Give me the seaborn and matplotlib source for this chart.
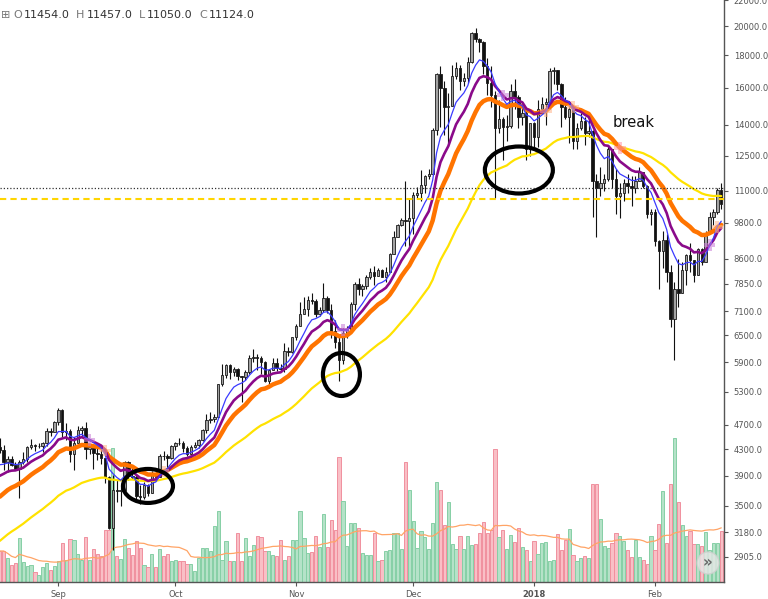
import numpy as np
import pandas as pd
import seaborn as sns
import matplotlib.pyplot as plt
from matplotlib.patches import Ellipse
from matplotlib.ticker import NullLocator

# daily candles, 17 Aug 2017 .. 18 Feb 2018
dates = pd.date_range('2017-08-17', '2018-02-18', freq='D')

opens = [
    4330, 4280, 4100, 4150, 4060, 4000, 4100, 4150, 4330, 4370, 4350, 4350, 4390, 4600, 4580,
    4740, 4950, 4580, 4600, 4230, 4400, 4610, 4640, 4300, 4330, 4240, 4220, 4160, 3880, 3230,
    3700, 3690, 3700, 4100, 3900, 3880, 3620, 3610, 3780, 3660, 3930, 3890, 4200, 4190, 4160,
    4350, 4400, 4390, 4310, 4220, 4330, 4370, 4440, 4610, 4780, 4790, 4830, 5440, 5640, 5830, 5690,
    5750, 5600, 5580, 5700, 6000, 6010, 5980, 5900, 5510, 5740, 5890, 5770, 5750, 6150, 6130,
    6460, 6740, 7030, 7150, 7400, 7380, 7020, 7140, 7460, 7140, 6600, 6350, 5950, 6560, 6630,
    7280, 7850, 7700, 7790, 8040, 8200, 8070, 8250, 8030, 8200, 8750, 9300, 9700, 9900, 9850,
    9950, 10850, 10900, 11250, 11600, 11700, 13700, 16800, 16000, 14900, 15000, 16700, 17200, 16400, 16600, 17600,
    19500, 19100, 18900, 17300, 16300, 15600, 13800, 14300, 13900, 13950, 15800, 15500, 14400, 14600, 12800,
    14100, 13400, 14800, 15100, 15200, 17000, 17100, 16200, 14900, 14400, 14800, 13200, 13800, 14200, 13600, 13650,
    11400, 11100, 11300, 11500, 12800, 11500, 10800, 10900, 11300, 11200, 11100, 11400, 11800, 11200, 10100,
    10200, 9150, 8850, 9200, 8200, 6900, 7700, 7600, 8250, 8700, 8550, 8100, 8900, 8500, 9450, 10000, 10200, 11050,
]
highs = [
    4480, 4370, 4190, 4190, 4100, 4130, 4250, 4350, 4460, 4380, 4390, 4410, 4640, 4640, 4770,
    4990, 4980, 4720, 4620, 4500, 4680, 4680, 4740, 4380, 4340, 4330, 4370, 4160, 3900, 3910,
    3860, 3780, 4120, 4120, 4050, 3910, 3770, 3820, 3790, 3970, 3990, 4220, 4270, 4220, 4370,
    4410, 4470, 4430, 4350, 4360, 4410, 4460, 4620, 4880, 4920, 4880, 5450, 5860, 5850, 5850, 5790,
    5780, 5600, 5730, 6050, 6190, 6070, 6040, 5930, 5760, 5990, 6000, 5870, 6320, 6240, 6470,
    6780, 7350, 7470, 7500, 7600, 7410, 7200, 7870, 7500, 7300, 6880, 6500, 6680, 6720, 7330,
    7900, 8000, 7850, 8100, 8300, 8370, 8300, 8280, 8350, 8780, 9500, 9750, 9980, 11400, 10700,
    10950, 11150, 11850, 11650, 11900, 13800, 16900, 17300, 16400, 15700, 17400, 17600, 17400, 16900, 17900, 19600,
    19900, 19200, 18950, 17800, 17300, 15800, 15300, 14400, 14500, 16200, 16500, 15600, 15100, 14700, 14100,
    14150, 15300, 15500, 15400, 17200, 17250, 17100, 16300, 15500, 14900, 14900, 14100, 14600, 14400, 14300, 13700,
    11700, 12000, 11700, 13000, 12800, 11900, 11300, 11500, 11700, 11600, 11600, 12000, 11800, 11250, 10300,
    10300, 9200, 9500, 9400, 8400, 7900, 8600, 8500, 8750, 9100, 8550, 8950, 8950, 9500, 10200, 10300, 11100, 11300,
]
lows = [
    4240, 3980, 3960, 4040, 3980, 3600, 4080, 4110, 4300, 4270, 4310, 4260, 4350, 4510, 4570,
    4690, 4500, 4450, 4110, 3980, 4390, 4510, 4150, 4220, 4000, 4140, 4070, 3800, 3220, 2980,
    3550, 3490, 3700, 3850, 3860, 3560, 3520, 3590, 3630, 3660, 3860, 3880, 4140, 4000, 4150,
    4280, 4360, 4250, 4190, 4160, 4310, 4320, 4430, 4560, 4730, 4740, 4820, 5400, 5570, 5550, 5600,
    5530, 5100, 5520, 5650, 5900, 5730, 5650, 5480, 5430, 5730, 5710, 5690, 5690, 6030, 6100,
    6400, 6720, 7020, 6990, 7300, 6950, 6980, 7080, 7050, 6450, 6200, 5500, 5860, 6450, 6630,
    7130, 7530, 7500, 7700, 7980, 7800, 8060, 8030, 7900, 8200, 8730, 9300, 9670, 9000, 9000,
    9400, 10700, 10600, 10900, 11500, 11650, 13500, 13900, 13500, 13100, 15000, 16500, 15900, 16100, 16300, 17500,
    18900, 18200, 16800, 15600, 14900, 10700, 13600, 12300, 13200, 13800, 14800, 13800, 14000, 12300, 12500,
    12900, 12900, 14700, 14000, 14800, 16200, 15900, 13900, 14300, 13100, 12800, 12800, 13700, 13000, 13400, 10000,
    9300, 10800, 11000, 11400, 11100, 10100, 9950, 10600, 10900, 10400, 10900, 11400, 11100, 9950, 9700,
    9000, 7700, 8300, 7900, 6700, 5950, 7200, 7600, 7800, 8200, 7900, 8100, 8400, 8500, 9400, 9700, 10100, 10300,
]
closes = [
    4280, 4100, 4150, 4060, 4000, 4100, 4150, 4330, 4370, 4350, 4350, 4390, 4600, 4580, 4740,
    4950, 4580, 4600, 4230, 4400, 4610, 4640, 4300, 4330, 4240, 4220, 4160, 3880, 3230, 3700,
    3690, 3700, 4100, 3900, 3880, 3620, 3610, 3780, 3660, 3930, 3890, 4200, 4190, 4160, 4350,
    4400, 4390, 4310, 4220, 4330, 4370, 4440, 4610, 4780, 4790, 4830, 5440, 5640, 5830, 5690, 5750,
    5600, 5580, 5700, 6000, 6010, 5980, 5900, 5510, 5740, 5890, 5770, 5750, 6150, 6130, 6460,
    6740, 7030, 7150, 7400, 7380, 7020, 7140, 7460, 7140, 6600, 6350, 5950, 6560, 6630, 7280,
    7850, 7700, 7790, 8040, 8200, 8070, 8250, 8030, 8200, 8750, 9300, 9700, 9900, 9850, 9950,
    10850, 10900, 11250, 11600, 11700, 13700, 16800, 16000, 14900, 15000, 16700, 17200, 16400, 16600, 17600, 19500,
    19100, 18900, 17300, 16300, 15600, 13800, 14300, 13900, 13950, 15800, 15500, 14400, 14600, 12800, 14100,
    13400, 14800, 15100, 15200, 17000, 17100, 16200, 14900, 14400, 14800, 13200, 13800, 14200, 13600, 13650, 11400,
    11100, 11300, 11500, 12800, 11500, 10800, 10900, 11300, 11200, 11100, 11400, 11800, 11200, 10100, 10200,
    9150, 8850, 9200, 8200, 6900, 7700, 7600, 8250, 8700, 8550, 8100, 8900, 8500, 9450, 10000, 10200, 11050, 10500,
]
volumes = [
    31, 31, 24, 17, 19, 44, 20, 16, 17, 10, 7, 15, 19, 12, 16,
    21, 39, 22, 43, 42, 28, 22, 45, 22, 33, 28, 26, 52, 52, 134,
    26, 23, 43, 34, 27, 41, 34, 17, 15, 28, 15, 33, 26, 28, 21,
    22, 21, 21, 18, 18, 11, 24, 34, 34, 31, 56, 71, 22, 41, 21, 21,
    49, 21, 44, 26, 37, 46, 45, 31, 31, 27, 26, 42, 22, 26, 42,
    42, 71, 44, 29, 30, 46, 35, 68, 35, 62, 52, 125, 81, 36, 59,
    59, 54, 29, 27, 27, 49, 21, 22, 31, 32, 49, 49, 33, 120, 92,
    61, 34, 51, 45, 33, 59, 100, 92, 57, 80, 38, 33, 46, 33, 46, 37,
    38, 49, 60, 49, 52, 133, 45, 52, 33, 47, 40, 54, 35, 32, 21,
    41, 28, 39, 40, 21, 22, 48, 32, 42, 53, 27, 21, 24, 26, 24, 98,
    98, 63, 36, 34, 39, 49, 46, 41, 32, 25, 42, 25, 22, 18, 46,
    32, 58, 91, 39, 98, 144, 80, 57, 46, 51, 38, 38, 36, 50, 32, 39, 39, 51,
]

# moving averages: (span, colour, width, value just before the first candle)
ema_specs = [
    (55, '#ffe200', 1.6, 3035),
    (21, '#ff7400', 3.2, 3550),
    (13, '#8a0a8a', 1.9, 3840),
    (8, '#3a3aff', 0.9, 4000),
]
# faint cross-over signal marks: (date, ema span it sits on, colour)
signals = [
    ('2017-09-09', 13, '#c77ad6'), ('2017-09-13', 21, '#ffb48a'),
    ('2017-09-28', 21, '#ffb48a'), ('2017-11-13', 13, '#c77ad6'),
    ('2017-12-24', 13, '#c77ad6'), ('2018-01-04', 21, '#ffb48a'),
    ('2018-01-11', 21, '#ffb48a'), ('2018-01-23', 21, '#ff94a8'),
    ('2018-02-15', 13, '#c77ad6'), ('2018-02-17', 21, '#ffb48a'),
]
last_price = 11124
level_line = 10680
month_labels = ['Sep', 'Oct', 'Nov', 'Dec', '2018', 'Feb']
price_ticks = [2905, 3180, 3500, 3900, 4300, 4700, 5300, 5900, 6500, 7100,
               7850, 8600, 9800, 11000, 12500, 14000, 16000, 18000, 20000, 22000]

df = pd.DataFrame({'date': dates, 'open': opens, 'high': highs,
                   'low': lows, 'close': closes, 'volume': volumes})
df['i'] = np.arange(len(df))
df['up'] = df['close'] >= df['open']


def seeded_ema(values, span, seed):
    a = 2.0 / (span + 1)
    out, prev = [], seed
    for v in values:
        prev = a * v + (1 - a) * prev
        out.append(prev)
    return out


for span, _, _, seed in ema_specs:
    df[f'ema{span}'] = seeded_ema(df['close'], span, seed)
df['vol_ma'] = df['volume'].rolling(20, min_periods=1).mean()

sns.set_theme(style='white')
plt.rcParams['font.family'] = ['DejaVu Sans']

fig = plt.figure(figsize=(7.68, 5.99), dpi=100)
ax = fig.add_axes([0, 17 / 599, 724 / 768, 582 / 599])
axv = ax.twinx()
ax.set_zorder(axv.get_zorder() + 1)
ax.patch.set_visible(False)

# volume
vol_col = np.where(df['up'], '#b5e2c8', '#f9bfc6')
vol_edge = np.where(df['up'], '#86cfa6', '#f0909e')
axv.bar(df['i'], df['volume'], width=0.82, color=vol_col, edgecolor=vol_edge, linewidth=0.7)
sns.lineplot(x=df['i'], y=df['vol_ma'], ax=axv, color='#ffa466', lw=0.9)
axv.set_ylim(0, 582)
axv.set_yticks([])
axv.set_ylabel('')
for s in axv.spines.values():
    s.set_visible(False)

# candles
ax.vlines(df['i'], df['low'], df['high'], color='#111111', lw=0.8, zorder=2)
body_low = np.minimum(df['open'], df['close'])
body_h = np.maximum(np.abs(df['close'] - df['open']), 1.0)
ax.bar(df['i'], body_h, bottom=body_low, width=0.62,
       color=np.where(df['up'], '#a3a3a3', '#111111'),
       edgecolor='#1a1a1a', linewidth=0.6, zorder=3)

for span, col, lw, _ in ema_specs:
    sns.lineplot(x=df['i'], y=df[f'ema{span}'], ax=ax, color=col, lw=lw, zorder=4)

sig = pd.DataFrame(signals, columns=['date', 'span', 'color'])
sig['i'] = [df.index[df['date'] == pd.Timestamp(d)][0] for d in sig['date']]
sig['y'] = [df.loc[i, f'ema{s}'] for i, s in zip(sig['i'], sig['span'])]
sns.scatterplot(data=sig, x='i', y='y', hue='color', palette={c: c for c in sig['color']},
                marker='P', s=70, alpha=0.55, linewidth=0, legend=False, ax=ax, zorder=4.5)

ax.axhline(last_price, color='#333333', lw=0.9, ls=(0, (1, 1.6)), zorder=5)
ax.axhline(level_line, color='#ffd500', lw=1.5, ls=(0, (3, 2)), zorder=5)

ax.set_yscale('log')
ax.set_ylim(2652, 22020)
ax.set_xlim(0.05, 185.7)
ax.yaxis.tick_right()
ax.yaxis.set_label_position('right')
ax.set_yticks(price_ticks)
ax.set_yticklabels([f'{v:.1f}' for v in price_ticks])
ax.yaxis.set_minor_locator(NullLocator())
ax.set_ylabel('')
ax.set_xlabel('')

month_pos = df.index[(df['date'].dt.day == 1)].tolist()
ax.set_xticks(month_pos)
ax.set_xticklabels(month_labels)
for lab in ax.get_xticklabels():
    if lab.get_text() == '2018':
        lab.set_fontweight('bold')
        lab.set_color('#333333')

ax.tick_params(axis='y', which='major', right=True, left=False, length=3, width=0.8,
               color='#555555', labelsize=6, labelcolor='#555555', pad=4)
ax.tick_params(axis='x', which='major', bottom=True, length=3, width=0.8,
               color='#555555', labelsize=6, labelcolor='#555555', pad=3)
for side in ['left', 'top']:
    ax.spines[side].set_visible(False)
for side in ['right', 'bottom']:
    ax.spines[side].set_color('#555555')
    ax.spines[side].set_linewidth(1.0)

# hand-drawn circles around the retests
to_axes = ax.transData + ax.transAxes.inverted()
for (ci, cp, w, h) in [(38.0, 3761, 50, 34), (87.6, 5641, 37, 43), (133.1, 11866, 68, 47)]:
    cx, cy = to_axes.transform((ci, cp))
    ax.add_patch(Ellipse((cx, cy), w / 724, h / 582, transform=ax.transAxes,
                         fill=False, edgecolor='black', lw=3.0, zorder=6))

ax.text(157.2, 14080, 'break', fontsize=10.6, color='#111111', va='center', ha='left', zorder=6)

# scroll button
ax.add_patch(Ellipse((708 / 724, 1 - 563 / 582), 22 / 724, 22 / 582, transform=ax.transAxes,
                     facecolor='#e6e6e6', edgecolor='#cfcfcf', alpha=0.8, lw=1, zorder=7))
ax.text(708 / 724, 1 - 563 / 582, '»', transform=ax.transAxes, ha='center', va='center',
        fontsize=11, color='#6a6a6a', fontweight='bold', zorder=8)

# OHLC header
hy = 1 - 15 / 599
parts = [('⊞', 1, '#777777'), ('O', 13, '#777777'), ('11454.0', 24, '#333333'),
         ('H', 76, '#777777'), ('11457.0', 87, '#333333'), ('L', 139, '#777777'),
         ('11050.0', 147, '#333333'), ('C', 199, '#777777'), ('11124.0', 209, '#333333')]
for txt, px, col in parts:
    fig.text(px / 768, hy, txt, fontsize=8, color=col, va='center', ha='left')

fig.savefig('out.png', dpi=100)
